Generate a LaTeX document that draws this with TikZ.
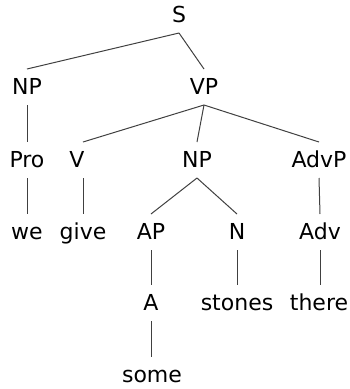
\documentclass[tikz,border=0pt]{standalone}
\usepackage{fontspec}
\setmainfont{DejaVu Sans}

\begin{document}
\begin{tikzpicture}[x=1pt,y=-1pt,line width=1pt,
  cat/.style={inner sep=0pt,outer sep=0pt,minimum height=36pt,
    text height=15pt,text depth=0pt,font=\fontsize{22}{26}\selectfont}]
  \useasboundingbox (0,0) rectangle (349,389);
  % rows of the tree
  \node[cat] (S)    at (179,15)  {S};
  \node[cat] (NPa)  at (27,87)   {NP};
  \node[cat] (VP)   at (204,87)  {VP};
  \node[cat] (Pro)  at (27,160)  {Pro};
  \node[cat] (V)    at (77,160)  {V};
  \node[cat] (NPb)  at (197,160) {NP};
  \node[cat] (AdvP) at (319,160) {AdvP};
  \node[cat] (we)   at (27,232)  {we};
  \node[cat] (give) at (83,232)  {give};
  \node[cat] (AP)   at (151,232) {AP};
  \node[cat] (N)    at (237,232) {N};
  \node[cat] (Adv)  at (320,232) {Adv};
  \node[cat] (A)    at (151,303) {A};
  \node[cat] (stones) at (237,303) {stones};
  \node[cat] (there)  at (319,303) {there};
  \node[cat] (some)   at (152,375) {some};
  % branches
  \begin{scope}[black!75]
    \draw (S.south) -- (NPa.north);
    \draw (S.south) -- (VP.north);
    \draw (NPa.south) -- (Pro.north);
    \draw (VP.south) -- (V.north -| give);
    \draw (VP.south) -- (NPb.north);
    \draw (VP.south) -- (AdvP.north);
    \draw (Pro.south) -- (we.north);
    \draw (V.south -| give) -- (give.north);
    \draw (NPb.south) -- (AP.north);
    \draw (NPb.south) -- (N.north);
    \draw (AdvP.south) -- (Adv.north);
    \draw (AP.south) -- (A.north);
    \draw (N.south) -- (stones.north);
    \draw (Adv.south) -- (there.north -| Adv);
    \draw (A.south) -- (some.north -| A);
  \end{scope}
\end{tikzpicture}
\end{document}
